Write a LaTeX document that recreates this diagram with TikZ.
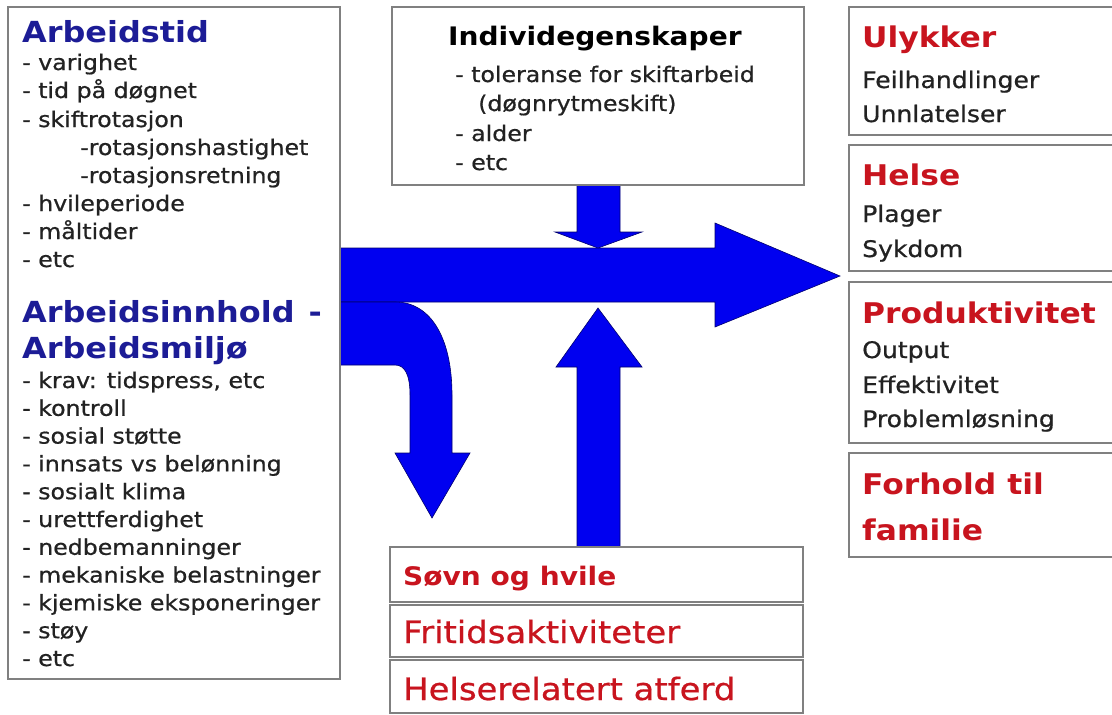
\documentclass[tikz,border=0pt]{standalone}
\usepackage{fontspec}
\setmainfont{DejaVu Sans}[FakeStretch=1.1]
\newfontfamily\regfont{DejaVu Sans}[FakeStretch=1.1, FakeBold=0.7]
\usetikzlibrary{calc}
\definecolor{boxgray}{RGB}{128,128,128}
\definecolor{titleblue}{RGB}{28,28,150}
\definecolor{titlered}{RGB}{200,20,30}
\definecolor{txt}{RGB}{34,34,34}
\definecolor{arrowblue}{RGB}{0,0,240}
\definecolor{arrowline}{RGB}{0,0,110}
\tikzset{
  box/.style={draw=boxgray, line width=1.8pt, fill=white, anchor=north west, inner sep=0pt, outer sep=0pt},
  ttlb/.style={anchor=base west, inner sep=0pt, text=titleblue, font=\fontsize{29}{29}\selectfont\bfseries},
  ttlr/.style={anchor=base west, inner sep=0pt, text=titlered, font=\fontsize{28.5}{29}\selectfont\bfseries},
  ttlk/.style={anchor=base west, inner sep=0pt, text=black, font=\fontsize{25.5}{26}\selectfont\bfseries},
  itm/.style={anchor=base west, inner sep=0pt, text=txt, font=\regfont\fontsize{21.5}{22}\selectfont},
  ritm/.style={anchor=base west, inner sep=0pt, text=txt, font=\regfont\fontsize{22.8}{23}\selectfont},
  btm/.style={anchor=base west, inner sep=0pt, text=titlered, font=\regfont\fontsize{30.8}{31}\selectfont},
  btmb/.style={anchor=base west, inner sep=0pt, text=titlered, font=\fontsize{25.5}{26}\selectfont\bfseries},
  blockarrow/.style={fill=arrowblue, draw=arrowline, line width=0.6pt, line join=miter}
}
\begin{document}
\begin{tikzpicture}[x=1pt,y=-1pt]
\useasboundingbox (0,0) rectangle (1112,715);
\fill[white] (0,0) rectangle (1112,715);

% block arrows
\path[blockarrow] (340,248) -- (715,248) -- (715,223) -- (840,276) -- (715,327) -- (715,302) -- (340,302) -- cycle;
\path[blockarrow] (577,185) -- (620,185) -- (620,232) -- (642,232) -- (598,248) -- (555,232) -- (577,232) -- cycle;
\path[blockarrow] (577,547) -- (577,367) -- (556,367) -- (598,308) -- (642,367) -- (620,367) -- (620,547) -- cycle;
\path[blockarrow] (340,302) -- (395,302) .. controls (432,302) and (452,340) .. (452,395) -- (452,453) -- (470,453) -- (432,518) -- (395,453) -- (410,453) -- (410,395) .. controls (410,375) and (405,365) .. (395,365) -- (340,365) -- cycle;

% boxes
\node[box, minimum width=332pt, minimum height=672pt] (L) at (8,7) {};
\node[box, minimum width=412pt, minimum height=178pt] (M) at (392,7) {};
\node[box, minimum width=413pt, minimum height=55pt] (B1) at (390,547) {};
\node[box, minimum width=413pt, minimum height=52pt] (B2) at (390,605) {};
\node[box, minimum width=413pt, minimum height=53pt] (B3) at (390,660) {};
\node[box, minimum width=280pt, minimum height=128pt] (R1) at (849,7) {};
\node[box, minimum width=280pt, minimum height=126pt] (R2) at (849,145) {};
\node[box, minimum width=280pt, minimum height=161pt] (R3) at (849,282) {};
\node[box, minimum width=280pt, minimum height=104pt] (R4) at (849,453) {};

% left box text
\node[ttlb] (l0) at (22,42) {Arbeidstid};
\node[itm] (l1) at (22,70) {- varighet};
\node[itm] (l2) at (22,98) {- tid på døgnet};
\node[itm] (l3) at (22,127) {- skiftrotasjon};
\node[itm] (l4) at (80,155) {-rotasjonshastighet};
\node[itm] (l5) at (80,183) {-rotasjonsretning};
\node[itm] (l6) at (22,211) {- hvileperiode};
\node[itm] (l7) at (22,239) {- måltider};
\node[itm] (l8) at (22,267) {- etc};
\node[ttlb] (m0) at (22,322) {Arbeidsinnhold\hspace{14pt}-};
\node[ttlb] (m1) at (22,358) {Arbeidsmiljø};
\node[itm] (k1) at (22,388) {- krav: tidspress, etc};
\node[itm] (k2) at (22,415.8) {- kontroll};
\node[itm] (k3) at (22,443.6) {- sosial støtte};
\node[itm] (k4) at (22,471.4) {- innsats vs belønning};
\node[itm] (k5) at (22,499.2) {- sosialt klima};
\node[itm] (k6) at (22,527) {- urettferdighet};
\node[itm] (k7) at (22,554.8) {- nedbemanninger};
\node[itm] (k8) at (22,582.6) {- mekaniske belastninger};
\node[itm] (k9) at (22,610.4) {- kjemiske eksponeringer};
\node[itm] (k10) at (22,638.2) {- støy};
\node[itm] (k11) at (22,666) {- etc};

% middle box text
\node[ttlk] (i0) at (448,45) {Individegenskaper};
\node[itm] (i1) at (455,82) {- toleranse for skiftarbeid};
\node[itm] (i2) at (478,111) {(døgnrytmeskift)};
\node[itm] (i3) at (455,141) {- alder};
\node[itm] (i4) at (455,170) {- etc};

% bottom boxes text
\node[btmb] (s1) at (403,585) {Søvn og hvile};
\node[btm] (s2) at (403,643) {Fritidsaktiviteter};
\node[btm] (s3) at (403,700) {Helserelatert atferd};

% right boxes text
\node[ttlr] (u0) at (862,47) {Ulykker};
\node[ritm] (u1) at (862,88) {Feilhandlinger};
\node[ritm] (u2) at (862,122) {Unnlatelser};
\node[ttlr] (h0) at (862,185) {Helse};
\node[ritm] (h1) at (862,222) {Plager};
\node[ritm] (h2) at (862,257) {Sykdom};
\node[ttlr] (p0) at (862,323) {Produktivitet};
\node[ritm] (p1) at (862,358) {Output};
\node[ritm] (p2) at (862,393) {Effektivitet};
\node[ritm] (p3) at (862,427) {Problemløsning};
\node[ttlr] (f0) at (862,494) {Forhold til};
\node[ttlr] (f1) at (862,540) {familie};
\end{tikzpicture}
\end{document}
